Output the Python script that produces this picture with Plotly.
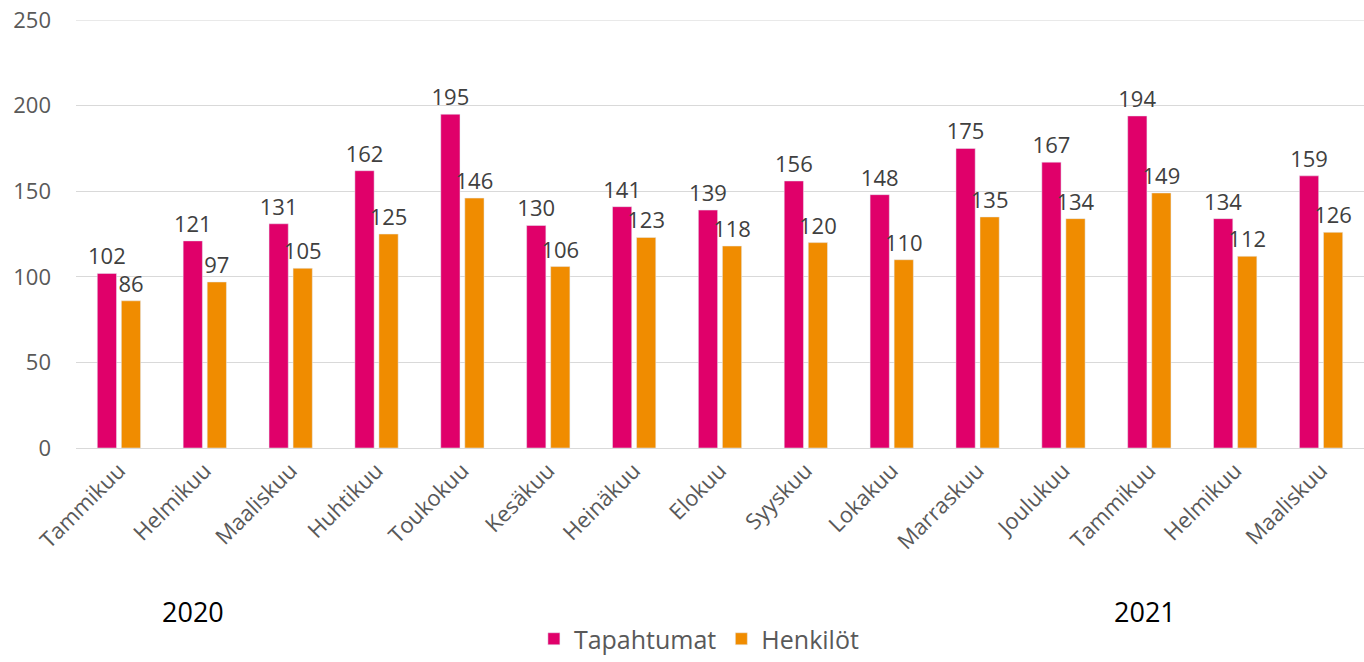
import plotly.graph_objects as go

months = ["Tammikuu", "Helmikuu", "Maaliskuu", "Huhtikuu", "Toukokuu", "Kesäkuu",
          "Heinäkuu", "Elokuu", "Syyskuu", "Lokakuu", "Marraskuu", "Joulukuu",
          "Tammikuu", "Helmikuu", "Maaliskuu"]
tapahtumat = [102, 121, 131, 162, 195, 130, 141, 139, 156, 148, 175, 167, 194, 134, 159]
henkilot = [86, 97, 105, 125, 146, 106, 123, 118, 120, 110, 135, 134, 149, 112, 126]
years = ["2020", "2021"]
year_pos = [0.86, 11.95]
y_ticks = [0, 50, 100, 150, 200, 250]

x = list(range(len(months)))
FONT = "Open Sans, Noto Sans, sans-serif"

fig = go.Figure()
fig.add_trace(go.Bar(x=x, y=tapahtumat, name="Tapahtumat", marker_color="#E0006A",
                     text=tapahtumat, textposition="outside", cliponaxis=False,
                     constraintext="none",
                     textfont=dict(size=22, color="#404040", family=FONT)))
fig.add_trace(go.Bar(x=x, y=henkilot, name="Henkilöt", marker_color="#F08C00",
                     text=henkilot, textposition="outside", cliponaxis=False,
                     constraintext="none",
                     textfont=dict(size=22, color="#404040", family=FONT)))

for yr, xp in zip(years, year_pos):
    fig.add_annotation(x=xp, y=-0.383, xref="x", yref="paper", text=yr, showarrow=False,
                       font=dict(size=27, color="#000000", family=FONT),
                       xanchor="center", yanchor="middle")

# top gridline (plotly drops the gridline lying on the plot edge)
fig.add_shape(type="line", xref="paper", yref="y", x0=0, x1=1, y0=y_ticks[-1], y1=y_ticks[-1],
              line=dict(color="#d9d9d9", width=1), layer="below")

fig.update_layout(
    width=1364, height=662,
    margin=dict(l=76, r=0, t=20, b=214, autoexpand=False),
    plot_bgcolor="white", paper_bgcolor="white",
    barmode="group", bargap=0.44, bargroupgap=0.2,
    font=dict(family=FONT, color="#595959"),
    showlegend=True,
    legend=dict(orientation="h", x=0.484, xanchor="center", y=0, yanchor="bottom",
                yref="container",
                font=dict(size=25, color="#595959", family=FONT), itemwidth=30,
                traceorder="normal"),
    xaxis=dict(tickmode="array", tickvals=x, ticktext=months, tickangle=-45,
               range=[-0.5, len(months) - 0.5], automargin=False,
               tickfont=dict(size=22, color="#595959", family=FONT),
               showgrid=False, showline=True, linecolor="#d9d9d9", linewidth=1,
               ticks="", zeroline=False),
    yaxis=dict(range=[0, 250.05], tickvals=y_ticks, automargin=False,
               tickfont=dict(size=22, color="#595959", family=FONT),
               showgrid=True, gridcolor="#d9d9d9", gridwidth=1,
               zeroline=False, showline=False, ticklabelstandoff=24),
)

fig.write_html("out.html", post_script="document.body.style.margin='0';",
               config={"displayModeBar": False})
